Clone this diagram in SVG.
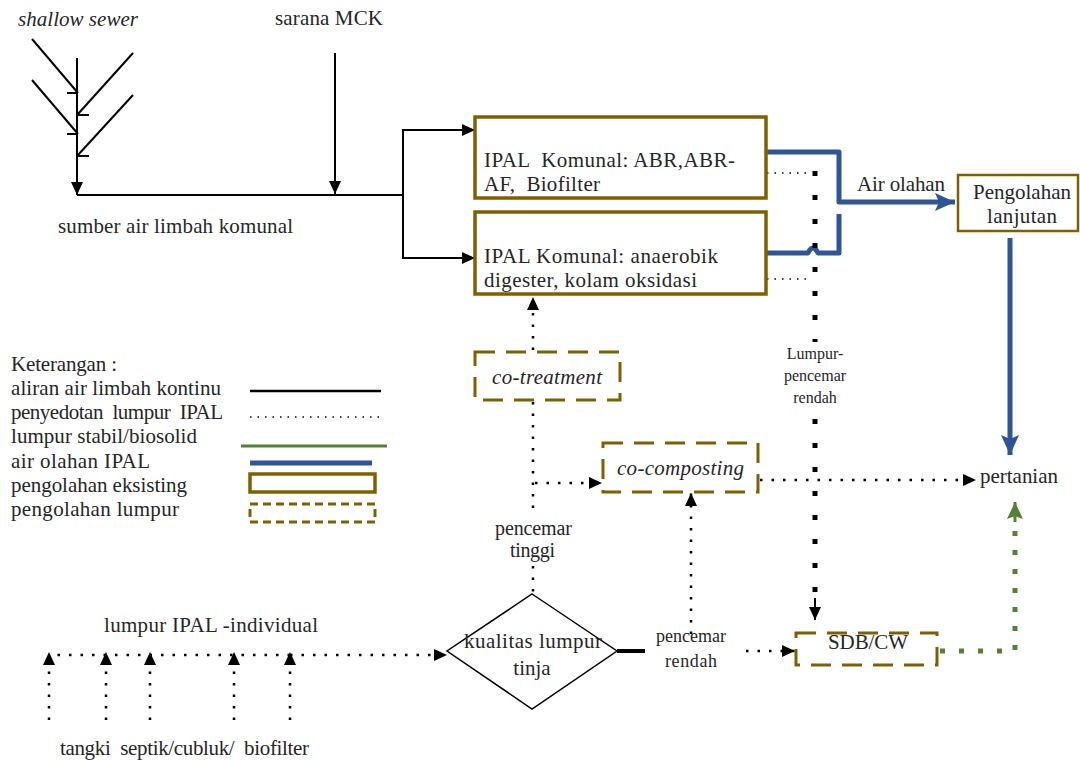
<svg xmlns="http://www.w3.org/2000/svg" width="1080" height="760" viewBox="0 0 1080 760">
<style>
text{font-family:"Liberation Serif","Times New Roman",serif;fill:#262626;font-size:21px}
.t16{font-size:16px}
.t18{font-size:18px}
.t20{font-size:20px}
.it{font-style:italic}
.blk{stroke:#000;stroke-width:2;fill:none}
.dot{stroke:#000;stroke-width:2.5;fill:none;stroke-dasharray:2.5 9;stroke-linecap:butt}
.fine{stroke:#000;stroke-width:1.5;fill:none;stroke-dasharray:1.5 6}
.sq{stroke:#000;stroke-width:5;fill:none;stroke-dasharray:5 19}
.blue{stroke:#2F5597;stroke-width:5;fill:none;stroke-linejoin:round}
.green{stroke:#548235;stroke-width:5;fill:none;stroke-dasharray:5 14}
.box{fill:#fff;stroke:#7F6000;stroke-width:3.5}
.dbox{fill:#fff;stroke:#7F6000;stroke-width:3;stroke-dasharray:20 11}
</style>
<defs>
<marker id="ah" markerUnits="userSpaceOnUse" markerWidth="14" markerHeight="12" refX="13" refY="6" orient="auto"><path d="M0,0 L13,6 L0,12 z" fill="#000"/></marker>
<marker id="ahb" markerUnits="userSpaceOnUse" markerWidth="22" markerHeight="18" refX="20" refY="9" orient="auto"><path d="M0,0 L20,9 L0,18 L4,9 z" fill="#2F5597"/></marker>
<marker id="ahg" markerUnits="userSpaceOnUse" markerWidth="18" markerHeight="16" refX="17" refY="8" orient="auto"><path d="M0,0 L17,8 L0,16 L3,8 z" fill="#548235"/></marker>
</defs>
<rect width="1080" height="760" fill="#fff"/>

<g id="connectors">
<line class="blk" x1="77" y1="58" x2="77" y2="195" marker-end="url(#ah)"/>
<line class="blk" x1="32" y1="39" x2="78" y2="93"/>
<line class="blk" x1="67" y1="93" x2="78" y2="93"/>
<line class="blk" x1="133" y1="53" x2="78" y2="114"/>
<line class="blk" x1="78" y1="115" x2="89" y2="115"/>
<line class="blk" x1="32" y1="80" x2="78" y2="134"/>
<line class="blk" x1="67" y1="134" x2="78" y2="134"/>
<line class="blk" x1="133" y1="95" x2="78" y2="155"/>
<line class="blk" x1="78" y1="156" x2="89" y2="156"/>
<line class="blk" x1="335" y1="53" x2="335" y2="194" marker-end="url(#ah)"/>
<line class="blk" x1="77" y1="195" x2="403" y2="195"/>
<polyline class="blk" points="475,130 403,130 403,258 475,258"/>
<line class="blk" x1="403" y1="130" x2="475" y2="130" marker-end="url(#ah)"/>
<line class="blk" x1="403" y1="258" x2="475" y2="258" marker-end="url(#ah)"/>
<polyline class="blue" points="766,152 839,152 839,202 955,202" marker-end="url(#ahb)"/>
<path class="blue" d="M766,253 L808,253 Q813,243 818,253 L839,253 L839,214"/>
<line class="blue" x1="1010" y1="238" x2="1010" y2="455" marker-end="url(#ahb)"/>
<line class="fine" x1="767" y1="173" x2="812" y2="173"/>
<line class="fine" x1="767" y1="279" x2="812" y2="279"/>
<line class="sq" x1="815" y1="171" x2="815" y2="342"/>
<line class="sq" x1="815" y1="419" x2="815" y2="600"/>
<line x1="815" y1="598" x2="815" y2="620" stroke="#000" stroke-width="2" marker-end="url(#ah)"/>
<line class="dot" x1="533" y1="350" x2="533" y2="297" marker-end="url(#ah)"/>
<line class="dot" x1="533" y1="402" x2="533" y2="515"/>
<line class="dot" x1="533" y1="566" x2="533" y2="595"/>
<line class="dot" x1="535" y1="483" x2="602" y2="483" marker-end="url(#ah)"/>
<line class="dot" x1="760" y1="480" x2="976" y2="480" marker-end="url(#ah)"/>
<line class="dot" x1="691" y1="634" x2="691" y2="493" marker-end="url(#ah)"/>
<line x1="617" y1="651" x2="645" y2="651" stroke="#000" stroke-width="4"/>
<line class="dot" x1="746" y1="651" x2="795" y2="651" marker-end="url(#ah)"/>
<polyline class="green" points="940,651 1015,651 1015,520"/>
<line x1="1015" y1="522" x2="1015" y2="502" stroke="#548235" stroke-width="3" marker-end="url(#ahg)"/>
<line class="dot" x1="290" y1="655" x2="447" y2="655" marker-end="url(#ah)"/>
<line class="dot" x1="290" y1="655" x2="50" y2="655"/>
<line class="dot" x1="49" y1="720" x2="49" y2="652" marker-end="url(#ah)"/>
<line class="dot" x1="106" y1="720" x2="106" y2="652" marker-end="url(#ah)"/>
<line class="dot" x1="150" y1="720" x2="150" y2="652" marker-end="url(#ah)"/>
<line class="dot" x1="234" y1="720" x2="234" y2="652" marker-end="url(#ah)"/>
<line class="dot" x1="290" y1="720" x2="290" y2="652" marker-end="url(#ah)"/>
</g>

<g id="label-shallow-sewer"><text class="it" x="18" y="26" textLength="120">shallow sewer</text></g>
<g id="label-sarana-mck"><text x="275" y="25" textLength="108">sarana MCK</text></g>
<g id="label-sumber"><text x="58" y="233" textLength="235">sumber air limbah komunal</text></g>

<g id="ipal1">
<rect class="box" x="475" y="117" width="291" height="81"/>
<text x="484" y="167" textLength="251" xml:space="preserve">IPAL  Komunal: ABR,ABR-</text>
<text x="484" y="191" textLength="116" xml:space="preserve">AF,  Biofilter</text>
</g>
<g id="ipal2">
<rect class="box" x="475" y="212" width="291" height="82"/>
<text x="484" y="263" textLength="234">IPAL Komunal: anaerobik</text>
<text x="484" y="287" textLength="213">digester, kolam oksidasi</text>
</g>
<g id="label-air-olahan"><text x="857" y="191" textLength="88">Air olahan</text></g>
<g id="pengolahan-lanjutan">
<rect x="958" y="175" width="120" height="56" fill="#fff" stroke="#7F6000" stroke-width="2.5"/>
<text x="973" y="199" textLength="98">Pengolahan</text>
<text x="987" y="223" textLength="70">lanjutan</text>
</g>
<g id="label-lumpur-rendah">
<text class="t16" x="815" y="359" text-anchor="middle">Lumpur-</text>
<text class="t16" x="815" y="381" text-anchor="middle">pencemar</text>
<text class="t16" x="815" y="403" text-anchor="middle">rendah</text>
</g>
<g id="co-treatment">
<rect class="dbox" x="475" y="352" width="145" height="48"/>
<text class="it" x="492" y="384" textLength="110">co-treatment</text>
</g>
<g id="co-composting">
<rect class="dbox" x="603" y="443" width="155" height="49"/>
<text class="it" x="617" y="475" textLength="127">co-composting</text>
</g>
<g id="pertanian"><text x="980" y="483" textLength="78">pertanian</text></g>
<g id="label-pencemar-tinggi">
<text class="t20" x="495" y="535" textLength="77">pencemar</text>
<text class="t20" x="510" y="557" textLength="45">tinggi</text>
</g>
<g id="kualitas">
<polygon points="532,594 617,651 532,709 447,651" fill="#fff" stroke="#000" stroke-width="1.5"/>
<text x="464" y="648" textLength="138">kualitas lumpur</text>
<text x="532" y="675" text-anchor="middle">tinja</text>
</g>
<g id="label-pencemar-rendah">
<text class="t18" x="656" y="642" textLength="70">pencemar</text>
<text class="t18" x="665" y="667" textLength="52">rendah</text>
</g>
<g id="sdb-cw">
<rect class="dbox" x="796" y="633" width="141" height="32"/>
<text x="828" y="649" textLength="80">SDB/CW</text>
</g>
<g id="label-individual"><text x="104" y="632" textLength="214">lumpur IPAL -individual</text></g>
<g id="label-tangki"><text x="60" y="755" textLength="249" xml:space="preserve">tangki  septik/cubluk/  biofilter</text></g>

<g id="legend">
<text x="11" y="371" textLength="106">Keterangan :</text>
<text x="11" y="395" textLength="210">aliran air limbah kontinu</text>
<text x="11" y="419" textLength="212" xml:space="preserve">penyedotan  lumpur  IPAL</text>
<text x="11" y="443" textLength="186">lumpur stabil/biosolid</text>
<text x="11" y="468" textLength="139">air olahan IPAL</text>
<text x="11" y="492" textLength="176">pengolahan eksisting</text>
<text x="11" y="516" textLength="168">pengolahan lumpur</text>
<line x1="250" y1="391" x2="381" y2="391" stroke="#000" stroke-width="2.5"/>
<line class="fine" x1="250" y1="417" x2="381" y2="417"/>
<line x1="241" y1="446" x2="387" y2="446" stroke="#548235" stroke-width="3"/>
<line x1="250" y1="463" x2="372" y2="463" stroke="#2F5597" stroke-width="5"/>
<rect x="250" y="474" width="125" height="18" fill="#fff" stroke="#7F6000" stroke-width="3.5"/>
<rect x="250" y="504" width="125" height="18" fill="#fff" stroke="#7F6000" stroke-width="3" stroke-dasharray="8 5"/>
</g>
</svg>
